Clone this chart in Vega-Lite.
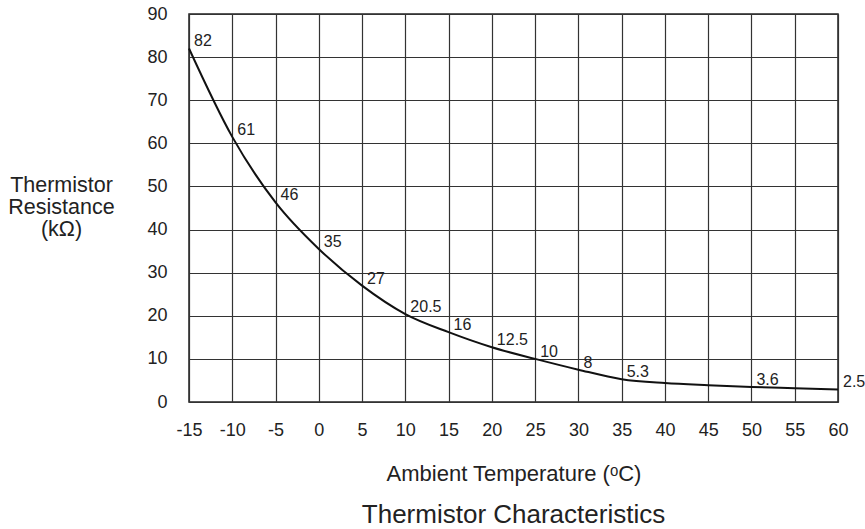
{
  "$schema": "https://vega.github.io/schema/vega-lite/v6.json",
  "autosize": "none",
  "width": 649,
  "height": 388,
  "padding": {"left": 189, "top": 14, "right": 27, "bottom": 127},
  "background": "white",
  "config": {
    "font": "Liberation Sans",
    "view": {"stroke": "#222", "strokeWidth": 1.5},
    "axis": {"labelFont": "Liberation Sans", "titleFont": "Liberation Sans", "labelColor": "#222", "titleColor": "#222"}
  },
  "title": {
    "text": "Thermistor Characteristics",
    "orient": "bottom",
    "anchor": "middle",
    "fontSize": 26,
    "fontWeight": "normal",
    "color": "#222",
    "font": "Liberation Sans",
    "offset": 18
  },
  "data": {
    "values": [
      {"t": -15, "r": 82, "label": "82"},
      {"t": -10, "r": 61.5, "label": "61"},
      {"t": -5, "r": 46.3, "label": "46"},
      {"t": 0, "r": 35.5, "label": "35"},
      {"t": 5, "r": 27, "label": "27"},
      {"t": 10, "r": 20.4, "label": "20.5"},
      {"t": 15, "r": 16.2, "label": "16"},
      {"t": 20, "r": 12.7, "label": "12.5"},
      {"t": 25, "r": 10, "label": "10"},
      {"t": 30, "r": 7.5, "label": "8"},
      {"t": 35, "r": 5.3, "label": "5.3"},
      {"t": 40, "r": 4.4, "label": ""},
      {"t": 45, "r": 3.9, "label": ""},
      {"t": 50, "r": 3.5, "label": "3.6"},
      {"t": 55, "r": 3.2, "label": ""},
      {"t": 60, "r": 2.9, "label": "2.5"}
    ]
  },
  "encoding": {
    "x": {
      "field": "t",
      "type": "quantitative",
      "scale": {"domain": [-15, 60], "nice": false, "zero": false},
      "axis": {
        "values": [-15, -10, -5, 0, 5, 10, 15, 20, 25, 30, 35, 40, 45, 50, 55, 60],
        "labelExpr": "toString(datum.value)",
        "title": "Ambient Temperature (ᵒC)",
        "titleFontSize": 22,
        "titleFontWeight": "normal",
        "titlePadding": 24,
        "labelFontSize": 18,
        "labelPadding": 19,
        "ticks": false,
        "domain": false,
        "grid": true,
        "gridColor": "#333",
        "gridWidth": 1.2,
        "gridOpacity": 1,
        "labelFlush": false,
        "labelOverlap": false
      }
    },
    "y": {
      "field": "r",
      "type": "quantitative",
      "scale": {"domain": [0, 90], "nice": false},
      "axis": {
        "values": [0, 10, 20, 30, 40, 50, 60, 70, 80, 90],
        "labelExpr": "toString(datum.value)",
        "title": ["Thermistor", "Resistance", "(kΩ)"],
        "titleAngle": 0,
        "titleAlign": "center",
        "titleBaseline": "middle",
        "titleX": -128,
        "titleY": 171,
        "titleFontSize": 21.5,
        "titleFontWeight": "normal",
        "titleLineHeight": 22,
        "labelFontSize": 18,
        "labelPadding": 22,
        "ticks": false,
        "domain": false,
        "grid": true,
        "gridColor": "#333",
        "gridWidth": 1.2,
        "gridOpacity": 1,
        "labelFlush": false,
        "labelOverlap": false
      }
    }
  },
  "layer": [
    {
      "mark": {"type": "line", "interpolate": "monotone", "color": "#111", "strokeWidth": 2}
    },
    {
      "mark": {"type": "text", "align": "left", "baseline": "alphabetic", "dx": 5, "dy": -2, "fontSize": 16, "color": "#222", "font": "Liberation Sans"},
      "encoding": {"text": {"field": "label"}}
    }
  ]
}
